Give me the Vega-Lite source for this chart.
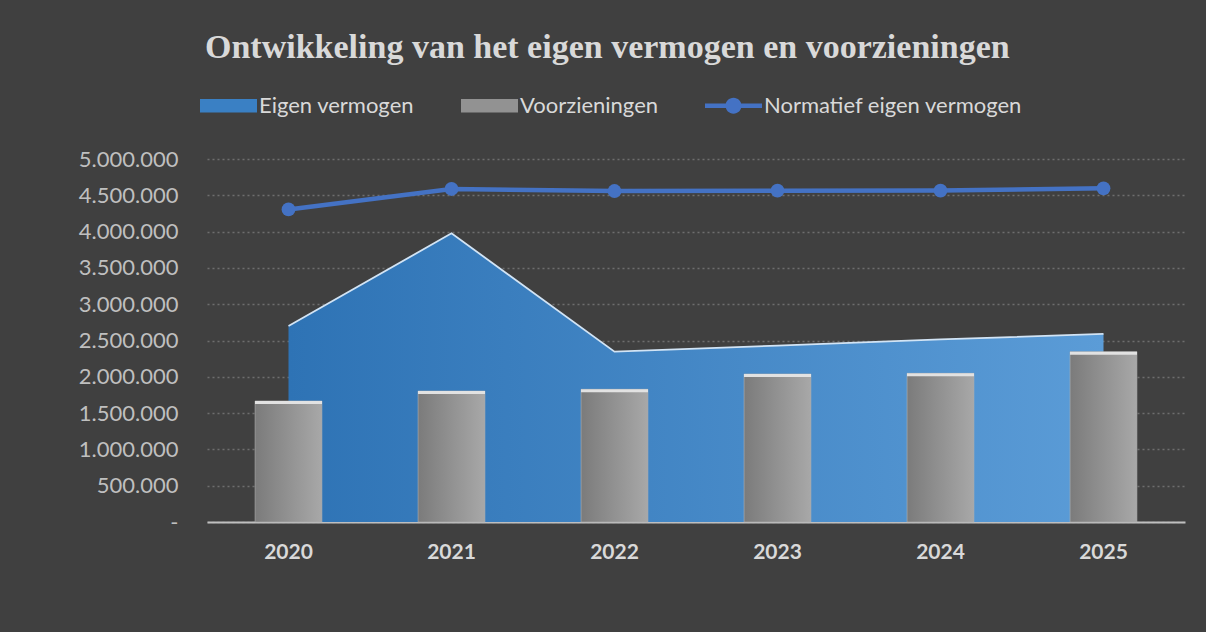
{
  "$schema": "https://vega.github.io/schema/vega-lite/v6.json",
  "width": 978,
  "height": 363,
  "autosize": {"type": "none"},
  "padding": {"left": 207, "top": 159, "right": 21, "bottom": 110},
  "background": "#404040",
  "config": {
    "view": {"stroke": null},
    "locale": {"number": {"decimal": ",", "thousands": ".", "grouping": [3], "currency": ["€", ""]}}
  },
  "title": {
    "text": "Ontwikkeling van het eigen vermogen en voorzieningen",
    "anchor": "start",
    "frame": "group",
    "dx": -2,
    "font": "Liberation Serif",
    "fontSize": 34,
    "fontWeight": "bold",
    "color": "#d9d9d9",
    "offset": 12
  },
  "data": {
    "values": [
      {"year": "2020", "series": "Eigen vermogen", "value": 2700000},
      {"year": "2021", "series": "Eigen vermogen", "value": 3976000},
      {"year": "2022", "series": "Eigen vermogen", "value": 2346000},
      {"year": "2023", "series": "Eigen vermogen", "value": 2430000},
      {"year": "2024", "series": "Eigen vermogen", "value": 2515000},
      {"year": "2025", "series": "Eigen vermogen", "value": 2590000},
      {"year": "2020", "series": "Voorzieningen", "value": 1667000},
      {"year": "2021", "series": "Voorzieningen", "value": 1804000},
      {"year": "2022", "series": "Voorzieningen", "value": 1828000},
      {"year": "2023", "series": "Voorzieningen", "value": 2039000},
      {"year": "2024", "series": "Voorzieningen", "value": 2048000},
      {"year": "2025", "series": "Voorzieningen", "value": 2346000},
      {"year": "2020", "series": "Normatief eigen vermogen", "value": 4305000},
      {"year": "2021", "series": "Normatief eigen vermogen", "value": 4587000},
      {"year": "2022", "series": "Normatief eigen vermogen", "value": 4559000},
      {"year": "2023", "series": "Normatief eigen vermogen", "value": 4564000},
      {"year": "2024", "series": "Normatief eigen vermogen", "value": 4565000},
      {"year": "2025", "series": "Normatief eigen vermogen", "value": 4596000}
    ]
  },
  "encoding": {
    "x": {
      "field": "year",
      "type": "ordinal",
      "scale": {"paddingInner": 0.59, "paddingOuter": 0.295},
      "axis": {
        "title": null,
        "labelAngle": 0,
        "labelFont": "Lato",
        "labelFontSize": 21,
        "labelFontWeight": "bold",
        "labelColor": "#d9d9d9",
        "labelPadding": 19,
        "ticks": false,
        "domain": true,
        "domainColor": "#bfbfbf",
        "domainWidth": 2,
        "grid": false
      }
    },
    "y": {
      "field": "value",
      "type": "quantitative",
      "scale": {"domain": [0, 5000000], "nice": false},
      "axis": {
        "title": null,
        "values": [0, 500000, 1000000, 1500000, 2000000, 2500000, 3000000, 3500000, 4000000, 4500000, 5000000],
        "format": ",.0f",
        "labelExpr": "datum.value === 0 ? '-' : datum.label",
        "labelFont": "Lato",
        "labelFontSize": 22,
        "labelColor": "#bfbfbf",
        "labelPadding": 29,
        "ticks": false,
        "domain": false,
        "grid": true,
        "gridColor": "#6e6e6e",
        "gridDash": [2, 3],
        "gridWidth": 1.3
      }
    }
  },
  "layer": [
    {
      "transform": [{"filter": "datum.series === 'Eigen vermogen'"}],
      "mark": {
        "type": "area",
        "opacity": 1,
        "fill": {"gradient": "linear", "x1": 0, "x2": 1, "y1": 0, "y2": 0, "stops": [{"offset": 0, "color": "#2e73b5"}, {"offset": 1, "color": "#5b9cd7"}]},
        "line": {"stroke": "#d2e4f5", "strokeWidth": 1.8}
      }
    },
    {
      "transform": [{"filter": "datum.series === 'Voorzieningen'"}],
      "mark": {
        "type": "bar",
        "fill": {"gradient": "linear", "x1": 0, "x2": 1, "y1": 0, "y2": 0, "stops": [{"offset": 0, "color": "#7b7b7b"}, {"offset": 1, "color": "#a8a8a8"}]},
        "stroke": "#b0b0b0",
        "strokeWidth": 0.6
      }
    },
    {
      "transform": [{"filter": "datum.series === 'Voorzieningen'"}],
      "mark": {"type": "tick", "orient": "horizontal", "thickness": 3, "size": 67, "color": "#e2e2e2", "opacity": 1, "yOffset": 1.5}
    },
    {
      "transform": [{"filter": "datum.series === 'Normatief eigen vermogen'"}],
      "mark": {
        "type": "line",
        "stroke": "#4472c4",
        "strokeWidth": 4.5,
        "point": {"filled": true, "fill": "#4472c4", "size": 190, "opacity": 1}
      }
    },
    {
      "mark": {"type": "point", "filled": true, "opacity": 0},
      "encoding": {
        "color": {
          "field": "series",
          "type": "nominal",
          "scale": {
            "domain": ["Eigen vermogen", "Voorzieningen", "Normatief eigen vermogen"],
            "range": ["#3a80c4", "#929292", "#4472c4"]
          },
          "legend": {
            "title": null,
            "orient": "none",
            "legendX": -7,
            "legendY": -82,
            "direction": "horizontal",
            "columns": 3,
            "columnPadding": 46,
            "symbolSize": 3249,
            "symbolOpacity": 1,
            "symbolStrokeWidth": 0,
            "labelFont": "Lato",
            "labelFontSize": 22,
            "labelColor": "#d9d9d9",
            "labelOffset": 2,
            "labelLimit": 500,
            "encode": {
              "symbols": {
                "update": {
                  "shape": {"signal": "datum.value === 'Normatief eigen vermogen' ? 'M-1,-0.075H1V0.075H-1Z M0.28,0A0.28,0.28 0 1,1 -0.28,0A0.28,0.28 0 1,1 0.28,0Z' : 'M-1,-0.24H1V0.24H-1Z'"},
                  "opacity": {"value": 1}
                }
              }
            }
          }
        }
      }
    }
  ]
}
